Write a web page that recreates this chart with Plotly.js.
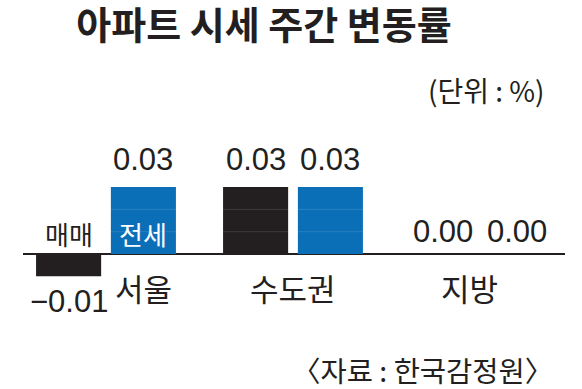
<!DOCTYPE html>
<html>
<head>
<meta charset="utf-8">
<script src="https://cdn.plot.ly/plotly-3.0.1.min.js"></script>
<style>
html,body{margin:0;padding:0;background:#fff;}
#chart{width:582px;height:389px;}
</style>
</head>
<body>
<div id="chart"></div>
<script>
// ---- data ----
const categories = ['서울', '수도권', '지방'];
const seriesNames = ['매매', '전세'];
const saleValues = [-0.01, 0.03, 0.00];
const jeonseValues = [0.03, 0.03, 0.00];
const stripeLevels = [0.01, 0.02];
const titleText = '아파트 시세 주간 변동률';
const unitText = '(단위 : %)';
const sourceText = '〈자료 : 한국감정원〉';

// ---- style ----
const KFONT = '"Noto Sans CJK KR", "Noto Sans", sans-serif';
const NFONT = '"Liberation Sans", Arial, sans-serif';
const INK = '#231f20';
const BLUE = '#0b6fb8';
const W = 582, H = 389;
const L = 23, R = 17, T = 120, B = 69;
const PW = W - L - R, PH = H - T - B;
const PX_PER_UNIT_Y = 2230;       // pixels per 1.0 of value
const ZERO_Y = 254;               // pixel row of baseline
const yRange = [-(T + PH - ZERO_Y) / PX_PER_UNIT_Y, (ZERO_Y - T) / PX_PER_UNIT_Y];
const GROUP_PX = 187;
const FIRST_GROUP_PX = 106;
const xRange = [-(FIRST_GROUP_PX - L) / GROUP_PX, -(FIRST_GROUP_PX - L) / GROUP_PX + PW / GROUP_PX];
const BARGAP = 0.2, BARGROUPGAP = 0.13;
const slot = (1 - BARGAP) / 2;

const xs = categories.map((c, i) => i);
const fmt = v => (v < 0 ? '\u2212' + Math.abs(v).toFixed(2) : v.toFixed(2));

const traces = [
  {type: 'bar', x: xs, y: saleValues, name: seriesNames[0],
   marker: {color: INK, line: {width: 0}}, hoverinfo: 'none'},
  {type: 'bar', x: xs, y: jeonseValues, name: seriesNames[1],
   marker: {color: BLUE, line: {width: 0}}, hoverinfo: 'none'}
];

const annotations = [];
[saleValues, jeonseValues].forEach((vals, j) => {
  vals.forEach((v, i) => {
    annotations.push({
      x: i + (j - 0.5) * slot, y: v, xref: 'x', yref: 'y',
      text: fmt(v), showarrow: false,
      xanchor: 'center', yanchor: 'middle',
      yshift: v < 0 ? -25 : (v > 0 ? 28 : 23),
      font: {family: NFONT, size: 31, color: INK}
    });
  });
});
// series labels in first group
seriesNames.forEach((s, j) => {
  annotations.push({
    x: 0 + (j - 0.5) * slot, y: 0, xref: 'x', yref: 'y',
    text: s, showarrow: false, xanchor: 'center', yanchor: 'middle',
    yshift: 21,
    font: {family: KFONT, size: 26, color: j === 0 ? INK : '#ffffff'}
  });
});
// category labels
const catShift = [37, 0, -11];
categories.forEach((c, i) => {
  annotations.push({
    x: i, y: 0, xref: 'x', yref: 'y', text: c, showarrow: false,
    xanchor: 'center', yanchor: 'middle', yshift: -33, xshift: catShift[i],
    font: {family: KFONT, size: 31, color: INK}
  });
});
// unit & source
annotations.push({
  x: (486 - L) / PW, y: 1 + (T - 90) / PH, xref: 'paper', yref: 'paper',
  text: unitText, showarrow: false, xanchor: 'center', yanchor: 'middle',
  font: {family: KFONT, size: 28, color: INK}
});
annotations.push({
  x: (422 - L) / PW, y: -(369 - (T + PH)) / PH, xref: 'paper', yref: 'paper',
  text: sourceText, showarrow: false, xanchor: 'center', yanchor: 'middle',
  font: {family: KFONT, size: 28.5, color: INK}
});

const shapes = stripeLevels.map(v => ({
  type: 'line', xref: 'paper', yref: 'y', x0: 0, x1: 1, y0: v, y1: v,
  line: {color: 'rgba(255,255,255,0.12)', width: 1}, layer: 'above'
}));

const layout = {
  width: W, height: H,
  margin: {l: L, r: R, t: T, b: B, pad: 0},
  paper_bgcolor: '#ffffff', plot_bgcolor: '#ffffff',
  showlegend: false,
  barmode: 'group', bargap: BARGAP, bargroupgap: BARGROUPGAP,
  title: {
    text: titleText, x: 264 / W, xanchor: 'center', xref: 'container',
    y: 1 - 26 / H, yanchor: 'middle', yref: 'container',
    font: {family: KFONT, size: 38, color: INK, weight: 'bold'}
  },
  xaxis: {range: xRange, showgrid: false, zeroline: false, showticklabels: false,
          ticks: '', showline: false, fixedrange: true},
  yaxis: {range: yRange, showgrid: false, zeroline: true, zerolinecolor: INK,
          zerolinewidth: 2, showticklabels: false, ticks: '', showline: false, fixedrange: true},
  annotations: annotations,
  shapes: shapes
};

Plotly.newPlot('chart', traces, layout, {displayModeBar: false, staticPlot: true});
</script>
</body>
</html>
